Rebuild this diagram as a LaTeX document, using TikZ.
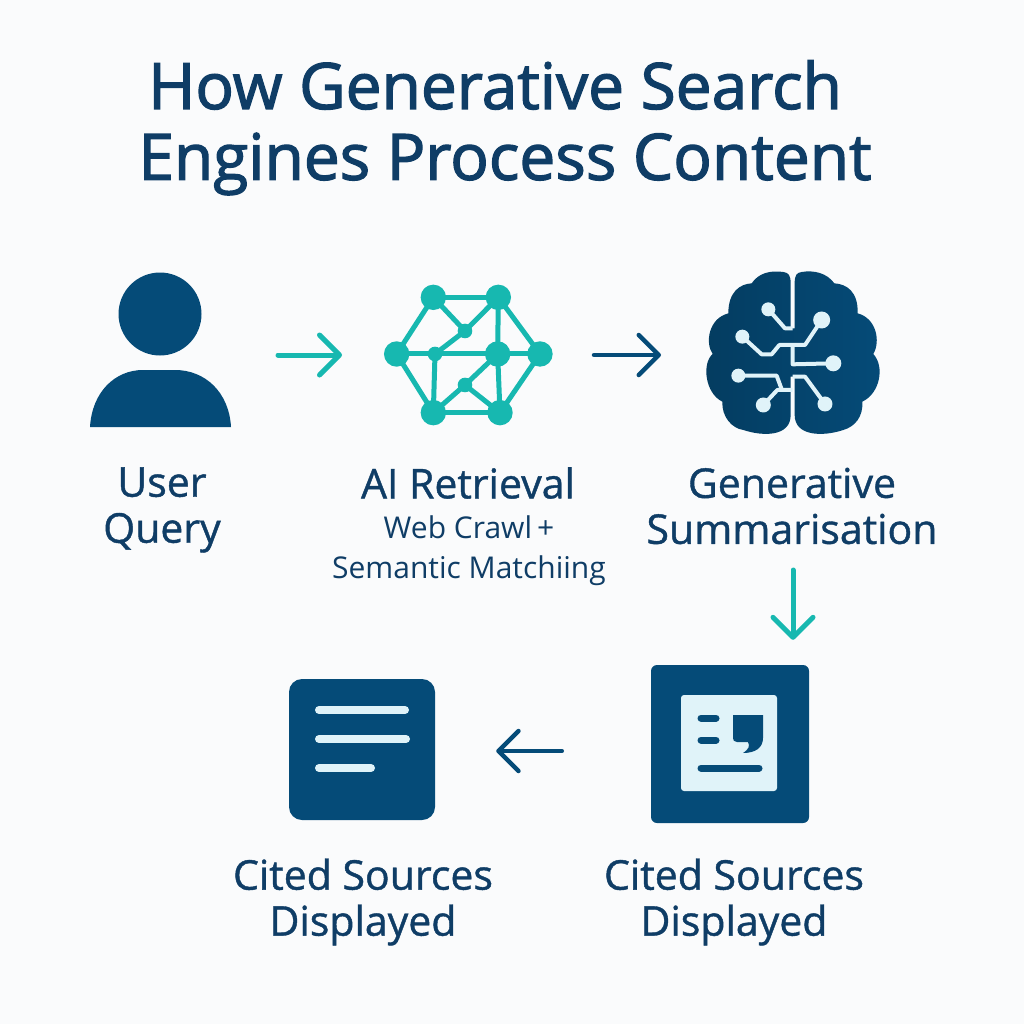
\documentclass[tikz,border=0pt]{standalone}
\usepackage{fontspec}
\setmainfont{Open Sans}
\usetikzlibrary{arrows.meta,positioning}
\definecolor{pagebg}{HTML}{FAFBFC}
\definecolor{navy}{HTML}{054B78}
\definecolor{inktext}{HTML}{0F3D66}
\definecolor{tealc}{HTML}{17B8B0}
\definecolor{paleblue}{HTML}{E0F3F9}
\tikzset{
  titletext/.style={text=inktext,font=\fontsize{64}{64}\selectfont\addfontfeature{FakeBold=2},anchor=center},
  steptext/.style={text=inktext,align=center,font=\fontsize{41}{46}\selectfont\addfontfeature{FakeBold=1},anchor=center},
  subtext/.style={text=inktext,align=center,font=\fontsize{30}{40}\selectfont,anchor=center},
  iconbox/.style={inner sep=0pt,outer sep=0pt,minimum width=#1},
  flowteal/.style={tealc,line width=5pt,line cap=round,-{Straight Barb[length=20pt,width=40pt,line width=5pt,round]}},
  flownavy/.style={navy,line width=4.5pt,line cap=round,-{Straight Barb[length=20pt,width=40pt,line width=4.5pt,round]}},
  netbig/.style={circle,fill=tealc,inner sep=0pt,minimum size=25.4pt},
  netsmall/.style={circle,fill=tealc,inner sep=0pt,minimum size=14.6pt},
  trace/.style={draw=paleblue,line width=4pt,line join=round},
  pad/.style={circle,fill=paleblue,inner sep=0pt,minimum size=#1},
  docline/.style={line width=8pt,line cap=round,paleblue},
  noteline/.style={line width=7pt,line cap=round,navy},
}
\begin{document}
\begin{tikzpicture}[x=1pt,y=-1pt]
\useasboundingbox[fill=pagebg] (0,0) rectangle (1024,1024);

\node[titletext] (title1) at (495,85) {How Generative Search};
\node[titletext] (title2) at (505,164) {Engines Process Content};

% user
\fill[navy] (160,314) circle (41.5pt);
\fill[navy] (90,427) .. controls (92,392) and (115,370) .. (143,370) -- (175,370) .. controls (205,370) and (229,392) .. (231,427) -- cycle;
\node[iconbox=141pt] (usericon) at (160.5,355) {};

% retrieval network
\begin{scope}[shift={(370,270)},x=0.3333pt,y=-0.3333pt]
\node[netbig] (na) at (190,82) {};
\node[netbig] (nb) at (385,82) {};
\node[netbig] (nc) at (80,252) {};
\node[netsmall] (nd) at (195,252) {};
\node[netbig] (ne) at (383,252) {};
\node[netbig] (nf) at (510,252) {};
\node[netsmall] (ng) at (285,183) {};
\node[netsmall] (nh) at (285,345) {};
\node[netbig] (ni) at (190,428) {};
\node[netbig] (nj) at (390,428) {};
\end{scope}
\foreach \p/\q in {na/nb,na/nc,na/ng,ng/nb,ng/nd,nb/ne,nb/nf,nc/nd,nd/ne,ne/nf,nc/ni,nd/ni,nf/nj,ne/nj,ne/nh,nh/ni,nh/nj,ni/nj}
  \draw[tealc,line width=5pt] (\p.center) -- (\q.center);
\node[iconbox=169pt] (neticon) at (468.5,355) {};

% brain
\begin{scope}[shift={(690,260)},x=0.3333pt,y=-0.3333pt]
\shade[left color=navy!80!black,right color=navy] (302,70) .. controls (302,45) and (295,38) .. (280,36)
  .. controls (240,30) and (205,40) .. (185,70)
  .. controls (150,72) and (115,95) .. (115,160)
  .. controls (55,175) and (45,250) .. (68,282)
  .. controls (35,310) and (45,400) .. (97,425)
  .. controls (95,470) and (125,505) .. (160,510)
  .. controls (220,530) and (302,530) .. (302,465) -- (302,350) -- (314,350) -- (314,465)
  .. controls (314,530) and (400,530) .. (460,510)
  .. controls (495,500) and (520,470) .. (517,425)
  .. controls (570,400) and (585,320) .. (550,282)
  .. controls (572,245) and (560,175) .. (503,160)
  .. controls (505,95) and (470,72) .. (433,70)
  .. controls (410,38) and (370,30) .. (335,36)
  .. controls (320,38) and (314,45) .. (314,70) -- (314,205) -- (302,205) -- cycle;
\node[pad=14pt] (p1) at (235,148) {};
\node[pad=17pt] (p2) at (395,180) {};
\node[pad=14pt] (p3) at (157,230) {};
\node[pad=16pt] (p4) at (430,310) {};
\node[pad=14pt] (p5) at (145,347) {};
\node[pad=15pt] (p6) at (220,435) {};
\node[pad=15pt] (p7) at (405,432) {};
\coordinate (bt1) at (308,205);
\coordinate (bt2) at (308,258);
\coordinate (bt3) at (308,350);
\coordinate (bt4) at (308,390);
\draw[trace] (p1.center) -- (285,205) -- (bt1);
\draw[trace] (p3.center) -- (215,283) -- (245,283) -- (268,255) -- (345,255) -- (p2.center);
\draw[trace] (bt2) -- (308,313) -- (p4.center);
\draw[trace] (p5.center) -- (260,347) -- (275,388);
\draw[trace] (p6.center) -- (262,390) -- (bt4);
\draw[trace] (bt3) -- (345,350) -- (p7.center);
\end{scope}
\node[iconbox=178pt,minimum height=176pt] (brainicon) at (793,350) {};

% labels
\node[steptext] (userlabel) at (162,510) {User\\Query};
\node[steptext] (airlabel) at (468,483) {AI Retrieval};
\node[subtext] (airsub) at (469,551) {Web Crawl\,+\\Semantic Matchiing};
\node[steptext] (genlabel) at (792,506) {Generative\\Summarisation};

% cited box
\fill[navy,rounded corners=6pt] (651,665) rectangle (809,823);
\fill[paleblue,rounded corners=3pt] (681,695) rectangle (777,791);
\draw[noteline] (701,718) -- (716,718);
\draw[noteline] (701,740) -- (716,740);
\draw[noteline] (701,768) -- (759,768);
\fill[navy] (733,715) -- (763,715) -- (763,738) .. controls (763,748) and (755,753) .. (743,753) .. controls (749,749) and (750,746) .. (748,742) -- (737,742) .. controls (734,742) and (733,740) .. (733,738) -- cycle;
\node[inner sep=0pt,minimum size=158pt] (citedicon) at (730,744) {};

% source box
\fill[navy,rounded corners=13pt] (289,679) rectangle (435,820);
\draw[docline] (319,710) -- (405,710);
\draw[docline] (319,739) -- (406,739);
\draw[docline] (319,768) -- (371,768);
\node[inner sep=0pt,minimum width=146pt,minimum height=141pt] (sourceicon) at (362,751) {};

\node[steptext] (citedlabel) at (734,902) {Cited Sources\\Displayed};
\node[steptext] (sourcelabel) at (363,902) {Cited Sources\\Displayed};

% arrows
\draw[flowteal,shorten <=47pt,shorten >=42pt] (usericon.east) -- (neticon.west);
\draw[flownavy,shorten <=41pt,shorten >=43pt] (neticon.east) -- (brainicon.west |- neticon.east);
\draw[flowteal,shorten <=132pt,shorten >=25pt] (brainicon.south) -- (brainicon.south |- citedicon.north);
\draw[flownavy,shorten <=89pt,shorten >=61pt] (citedicon.west |- sourceicon.east) -- (sourceicon.east);
\end{tikzpicture}
\end{document}
